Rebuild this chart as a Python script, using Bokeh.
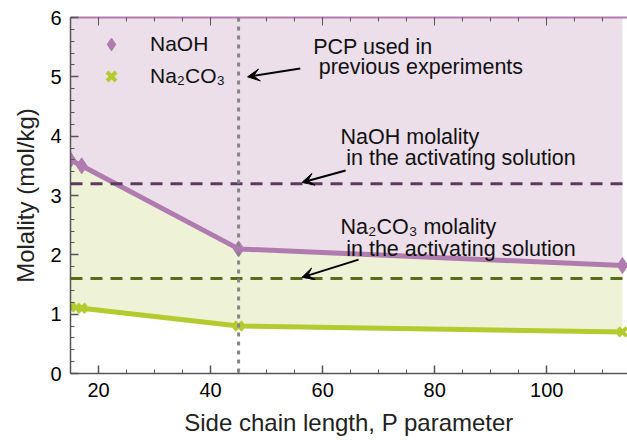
from bokeh.plotting import figure
from bokeh.models import (Range1d, LinearAxis, FixedTicker, Span, Label, Arrow,
                          VeeHead, Legend, LegendItem)
from bokeh.embed import file_html
from bokeh.resources import INLINE

# ---- data ----
p_values = [15, 17, 45, 113.5]
naoh = [3.6, 3.5, 2.1, 1.82]
na2co3 = [1.12, 1.1, 0.8, 0.7]
naoh_activating = 3.2
na2co3_activating = 1.6
pcp_previous = 45
x_ticks = [20, 40, 60, 80, 100]
y_ticks = [0, 1, 2, 3, 4, 5, 6]
Y_TOP = 6

FONT = "Liberation Sans"
NAOH_C = "#b07cb0"
NA2_C = "#b3cb2e"
NAOH_FILL = "#ecdfea"
NA2_FILL = "#eef2d7"
AX_C = "#555555"

p = figure(width=627, height=440, output_backend="svg", toolbar_location=None,
           x_range=Range1d(15, 114.4), y_range=Range1d(0, Y_TOP),
           min_border_left=70, min_border_right=0, min_border_top=17,
           min_border_bottom=67)
p.outline_line_color = None
p.grid.visible = False
p.background_fill_color = "white"

# fills
p.varea(x=p_values, y1=naoh, y2=[Y_TOP] * len(p_values), fill_color=NAOH_FILL)
p.varea(x=p_values, y1=na2co3, y2=naoh, fill_color=NA2_FILL)

# lines and markers
p.line(p_values, naoh, line_color=NAOH_C, line_width=5)
p.line(p_values, na2co3, line_color=NA2_C, line_width=5)
r1 = p.scatter(p_values, naoh, marker="diamond", size=16, fill_color=NAOH_C,
               line_color=NAOH_C, line_width=1)
r2 = p.scatter(p_values, na2co3, marker="x", size=12, line_color=NA2_C,
               line_width=4)

# reference lines
p.add_layout(Span(location=naoh_activating, dimension="width",
                  line_color="#5e3b5e", line_width=3, line_dash="12 8"))
p.add_layout(Span(location=na2co3_activating, dimension="width",
                  line_color="#5a6b1e", line_width=3, line_dash="12 8"))
p.add_layout(Span(location=pcp_previous, dimension="height",
                  line_color="#858585", line_width=3, line_dash="4 5"))

# axes
xt = FixedTicker(ticks=x_ticks, minor_ticks=list(range(15, 115, 5)))
yt = FixedTicker(ticks=y_ticks, minor_ticks=[i / 5 for i in range(0, 31)])
p.xaxis.ticker = xt
p.yaxis.ticker = yt
p.xaxis.axis_label = "Side chain length, P parameter"
p.yaxis.axis_label = "Molality (mol/kg)"
for ax in (p.xaxis[0], p.yaxis[0]):
    ax.axis_line_color = AX_C
    ax.axis_line_width = 1.5
    ax.major_tick_in = 8
    ax.major_tick_out = 0
    ax.minor_tick_in = 4
    ax.minor_tick_out = 0
    ax.major_tick_line_color = AX_C
    ax.minor_tick_line_color = AX_C
    ax.major_tick_line_width = 1.5
    ax.major_label_text_font = FONT
    ax.major_label_text_font_size = "20px"
    ax.major_label_text_color = "black"
    ax.axis_label_text_font = FONT
    ax.axis_label_text_font_size = "24px"
    ax.axis_label_text_font_style = "normal"
    ax.axis_label_text_color = "#222222"
p.xaxis.major_label_standoff = 9
p.xaxis.axis_label_standoff = 9
p.yaxis.major_label_standoff = 9
p.yaxis.axis_label_standoff = 8

top = LinearAxis(ticker=xt, axis_line_color="#b07cb0", axis_line_width=2,
                 major_tick_in=8, major_tick_out=0, minor_tick_in=4,
                 minor_tick_out=0, major_tick_line_color=AX_C,
                 minor_tick_line_color=AX_C,
                 major_label_overrides={t: "" for t in x_ticks},
                 major_label_standoff=0)
p.add_layout(top, "above")

# legend
legend = Legend(items=[LegendItem(label="NaOH", renderers=[r1]),
                       LegendItem(label="Na₂CO₃", renderers=[r2])],
                location=(22, 281), glyph_width=38, glyph_height=32,
                label_height=32, spacing=0, padding=0, margin=0,
                label_standoff=20, border_line_color=None,
                background_fill_alpha=0, label_text_font=FONT,
                label_text_font_size="21px", label_text_color="#111111")
p.add_layout(legend)

# annotations
def lab(x, y, t):
    p.add_layout(Label(x=x, y=y, text=t, text_font=FONT, text_font_size="21.5px",
                       text_color="#111111", text_baseline="alphabetic"))

lab(58.3, 5.50, "PCP used in")
lab(59.3, 5.16, "previous experiments")
lab(63.2, 3.98, "NaOH molality")
lab(64.2, 3.63, "in the activating solution")
lab(63.2, 2.47, "Na₂CO₃ molality")
lab(64.2, 2.10, "in the activating solution")

for xs, ys, xe, ye in [(56.0, 5.14, 46.6, 5.0), (64.1, 3.42, 56.3, 3.22),
                       (66.4, 1.92, 56.3, 1.62)]:
    p.add_layout(Arrow(end=VeeHead(size=12, fill_color="black",
                                   line_color="black"),
                       x_start=xs, y_start=ys, x_end=xe, y_end=ye,
                       line_color="black", line_width=2))

open("out.html", "w").write(file_html(p, INLINE))
